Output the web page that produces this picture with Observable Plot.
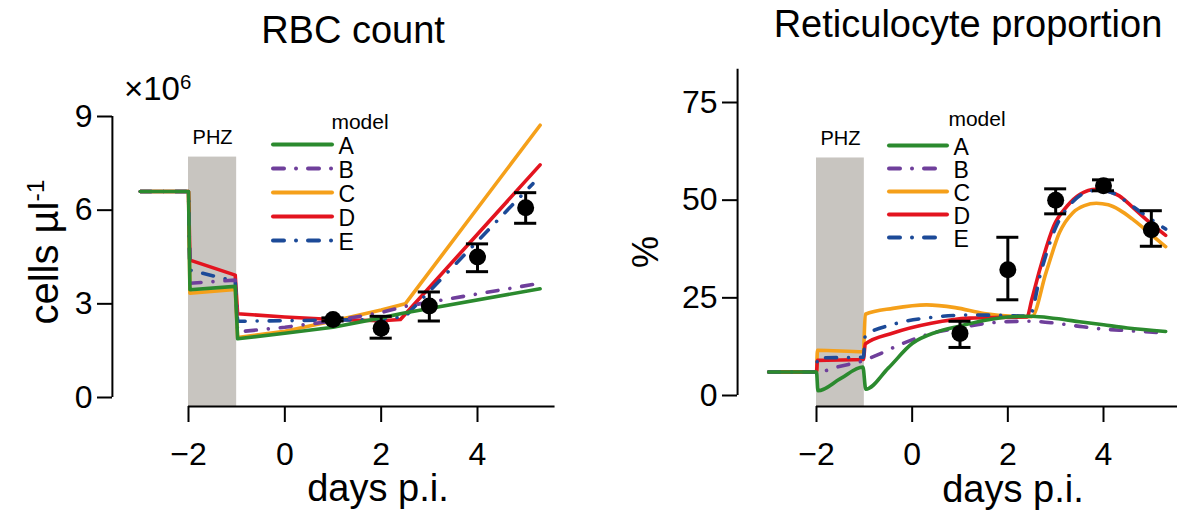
<!DOCTYPE html>
<html><head><meta charset="utf-8">
<script src="https://cdn.jsdelivr.net/npm/d3@7"></script>
<script src="https://cdn.jsdelivr.net/npm/@observablehq/plot@0.6"></script>
<style>
body{margin:0;background:#fff;}
#wrap{position:relative;width:1177px;height:516px;overflow:hidden;font-family:"Liberation Sans",Arial,Helvetica,sans-serif;color:#000;}
#wrap svg{position:absolute;}
.t{position:absolute;line-height:1;white-space:nowrap;}
.c{transform:translateX(-50%);}
.r{transform:translate(-50%,-50%) rotate(-90deg);}
sup{font-size:0.62em;vertical-align:0.55em;line-height:0;}
</style></head><body><div id="wrap"></div>
<script>
const FONT = '"Liberation Sans", Arial, Helvetica, sans-serif';
const models = ["A","B","C","D","E"];
const modelColors = ["#2b8a2e","#6f3f9b","#f5a01a","#e3141f","#1c4a98"];
const modelDash = ["none","11 12 0.01 12","none","none","11 12 0.01 12"];
const drawOrder = ["C","D","E","B","A"];

const dayTicks = [-2,0,2,4];
const rbcTicks = [0,3,6,9];
const retTicks = [0,25,50,75];
const phz = [-2,-1];

// RBC count (x10^6 cells/µl): [day, value]
const rbcA = [[-3,6.6],[-2,6.6],[-1.97,3.45],[-1.03,3.56],[-0.98,1.88],[0,2.06],[1,2.25],[2,2.55],[2.45,2.7],[5.3,3.48]];
const rbcB = [[-3,6.6],[-2,6.6],[-1.97,3.66],[-1.03,3.76],[-0.98,2.1],[0,2.25],[1,2.45],[2,2.72],[2.5,2.92],[5.3,3.66]];
const rbcC = [[-3,6.6],[-2,6.6],[-1.97,3.34],[-1.03,3.46],[-0.98,1.92],[0,2.12],[1,2.45],[2,2.8],[2.5,3.0],[5.3,8.72]];
const rbcD = [[-3,6.6],[-2,6.6],[-1.97,4.4],[-1.03,3.92],[-0.98,2.68],[0,2.58],[1,2.5],[2,2.46],[2.4,2.5],[5.3,7.45]];
const rbcE = [[-3,6.6],[-2,6.6],[-1.97,4.08],[-1.03,3.72],[-0.98,2.44],[0,2.46],[1,2.48],[2,2.5],[2.5,2.6],[5.15,6.85]];

const rbcPtDays = [1,2,3,4,5];
const rbcMean = [2.5,2.22,2.93,4.5,6.08];
const rbcLo = [2.45,1.9,2.45,4.03,5.58];
const rbcHi = [2.55,2.6,3.38,4.92,6.56];

// Reticulocyte proportion (%): [day, value]
const retA = [[-3,6],[-2,6],[-1.97,1.2],[-1.5,4.3],[-1.03,7.3],[-0.97,1.6],[-0.5,7],[0,13.3],[0.5,16.2],[1,17.8],[1.5,19.2],[2,20.1],[2.5,20.3],[3,19.7],[3.5,18.9],[4,18.1],[4.5,17.3],[5.3,16.4]];
const retB = [[-3,6],[-2,6],[-1.5,7.5],[-1,9.0],[-0.8,10.0],[-0.1,13.8],[0.5,16.2],[1,17.3],[1.5,18.4],[2,18.9],[2.5,19.0],[3,18.5],[3.5,17.7],[4,17.0],[4.5,16.6],[5.3,16.0]];
const retC = [[-3,6],[-2,6],[-1.98,11.6],[-1.02,11.2],[-0.98,20.8],[-0.4,22.3],[0.3,23.2],[0.9,22.5],[1.5,21.0],[2.1,20.3],[2.5,20.2],[2.8,31.5],[3.08,41.7],[3.36,46.8],[3.6,48.6],[3.85,49.2],[4.1,48.8],[4.33,47.5],[4.6,45.2],[4.89,42.3],[5.3,38.1]];
const retD = [[-3,6],[-2,6],[-1.98,9.0],[-1.02,9.2],[-0.98,13.2],[-0.4,16.0],[0.4,18.5],[1.2,19.8],[1.9,20.0],[2.4,20.1],[2.5,24.5],[2.67,32.3],[2.96,43.4],[3.24,48.5],[3.51,51.5],[3.85,52.8],[4.1,52.3],[4.33,51.1],[4.6,48.3],[4.89,45.1],[5.3,41.0]];
const retE = [[-3,6],[-2,6],[-1.98,9.6],[-1.02,9.8],[-0.98,15.3],[-0.4,18.2],[0.4,20.0],[1.2,20.6],[1.9,20.5],[2.45,20.3],[2.7,32],[3.0,43],[3.3,48.8],[3.6,51.8],[3.9,52.6],[4.2,51.8],[4.6,48.5],[4.95,45.5],[5.3,42.6]];

const retPtDays = [1,2,3,4,5];
const retMean = [15.9,32.2,50.0,53.7,42.4];
const retLo = [12.3,24.5,46.5,52.4,38.2];
const retHi = [19.0,40.5,52.9,55.2,47.3];

const color = m => modelColors[models.indexOf(m)];
const dash = m => modelDash[models.indexOf(m)];
const rows = (pairs, model) => pairs.map(([day, value]) => ({day, value, model}));
const pts = (days, mean, lo, hi) => days.map((day, i) => ({day, mean: mean[i], lo: lo[i], hi: hi[i]}));
const fmt = d => d < 0 ? "\u2212" + Math.abs(d) : String(d);
const capHalf = 0.23;

function panel(o) {
  const svg = Plot.plot({
    width: o.width, height: 516, marginLeft: o.marginLeft, marginBottom: 110, marginTop: 0, marginRight: 0,
    x: {domain: [-2, 4], range: o.xRange},
    y: {domain: o.yDomain, range: o.yRange},
    style: {fontFamily: FONT, background: "transparent", overflow: "visible"},
    marks: [
      Plot.rect([phz], {x1: d => d[0], x2: d => d[1], y1: o.floor, y2: o.bandTop, fill: "#c8c5c0"}),
      Plot.text(["PHZ"], {x: (phz[0] + phz[1]) / 2, y: o.bandTop, text: d => d, dy: -19, fontSize: 20}),
      ...drawOrder.map(m => Plot.line(rows(o.series[m], m), {x: "day", y: "value", stroke: color(m), strokeWidth: 3.6,
        strokeDasharray: dash(m), strokeLinecap: "round", strokeLinejoin: "round", curve: o.curve})),
      Plot.ruleX(o.points, {x: "day", y1: "lo", y2: "hi", strokeWidth: 3}),
      Plot.ruleY(o.points, {y: "lo", x1: d => d.day - capHalf, x2: d => d.day + capHalf, strokeWidth: 3}),
      Plot.ruleY(o.points, {y: "hi", x1: d => d.day - capHalf, x2: d => d.day + capHalf, strokeWidth: 3}),
      Plot.dot(o.points, {x: "day", y: "mean", r: 8.5, fill: "black"}),
      Plot.ruleX([o.axisAt], {y1: o.yDomain[0], y2: o.yAxisTop, strokeWidth: 2}),
      Plot.ruleY([o.floor], {x1: -2, x2: o.xAxisEnd, strokeWidth: 2}),
      Plot.axisY({ticks: o.yTicks, tickSize: 15, tickPadding: 5, fontSize: 32, label: null, strokeWidth: 2}),
      Plot.axisX({ticks: dayTicks, tickSize: 16, tickPadding: 20, fontSize: 32, label: null, tickFormat: fmt, strokeWidth: 2})
    ]
  });
  svg.style.left = o.left + "px";
  svg.style.top = "0px";
  return svg;
}

function legend(o) {
  const svg = Plot.plot({
    width: 130, height: 130, margin: 0,
    x: {domain: [0, 1], range: o.xRange, axis: null},
    y: {type: "point", domain: models, range: o.yRange, padding: 0, axis: null},
    style: {fontFamily: FONT, background: "transparent", overflow: "visible"},
    marks: [
      ...models.map(m => Plot.ruleY([m], {y: d => d, x1: 0, x2: 1, stroke: color(m), strokeWidth: 4,
        strokeDasharray: dash(m), strokeLinecap: "round"})),
      Plot.text(models, {x: 1, y: d => d, text: d => d, dx: 6, dy: 2, textAnchor: "start", fontSize: 23})
    ]
  });
  svg.style.left = o.left + "px";
  svg.style.top = o.top + "px";
  return svg;
}

const wrap = document.getElementById("wrap");

wrap.append(panel({
  left: 0, width: 580, marginLeft: 112,
  xRange: [188, 477], yDomain: [0, 9], yRange: [397, 116], yTicks: rbcTicks,
  floor: -0.29, bandTop: 7.7, axisAt: -3.58, yAxisTop: 9, xAxisEnd: 5.61,
  series: {A: rbcA, B: rbcB, C: rbcC, D: rbcD, E: rbcE}, curve: "linear",
  points: pts(rbcPtDays, rbcMean, rbcLo, rbcHi)
}));

wrap.append(panel({
  left: 580, width: 597, marginLeft: 157,
  xRange: [236, 523], yDomain: [0, 75], yRange: [395, 102], yTicks: retTicks,
  floor: -2.82, bandTop: 60.8, axisAt: -3.65, yAxisTop: 83.5, xAxisEnd: 5.9,
  series: {A: retA, B: retB, C: retC, D: retD, E: retE}, curve: "monotone-x",
  points: pts(retPtDays, retMean, retLo, retHi)
}));

wrap.append(legend({left: 265, top: 130, xRange: [8, 67], yRange: [13, 110]}));
wrap.append(legend({left: 881, top: 130, xRange: [8, 66], yRange: [13, 108]}));

const html = [
  ['RBC count', 'left:353px;top:11px;font-size:38px', 'c'],
  ['Reticulocyte proportion', 'left:968px;top:5px;font-size:38px', 'c'],
  ['\u00d710<sup>6</sup>', 'left:124px;top:72px;font-size:33px', ''],
  ['model', 'left:360px;top:111px;font-size:21px', 'c'],
  ['model', 'left:977px;top:108px;font-size:21px', 'c'],
  ['cells \u00b5l<sup>-1</sup>', 'left:44px;top:252px;font-size:40px', 'r'],
  ['%', 'left:646px;top:252px;font-size:36px', 'r'],
  ['days p.i.', 'left:378px;top:469px;font-size:38px', 'c'],
  ['days p.i.', 'left:1013px;top:470px;font-size:38px', 'c']
];
for (const [txt, css, cls] of html) {
  const d = document.createElement("div");
  d.className = "t " + cls;
  d.style.cssText = css;
  d.innerHTML = txt;
  wrap.append(d);
}
</script></body></html>
